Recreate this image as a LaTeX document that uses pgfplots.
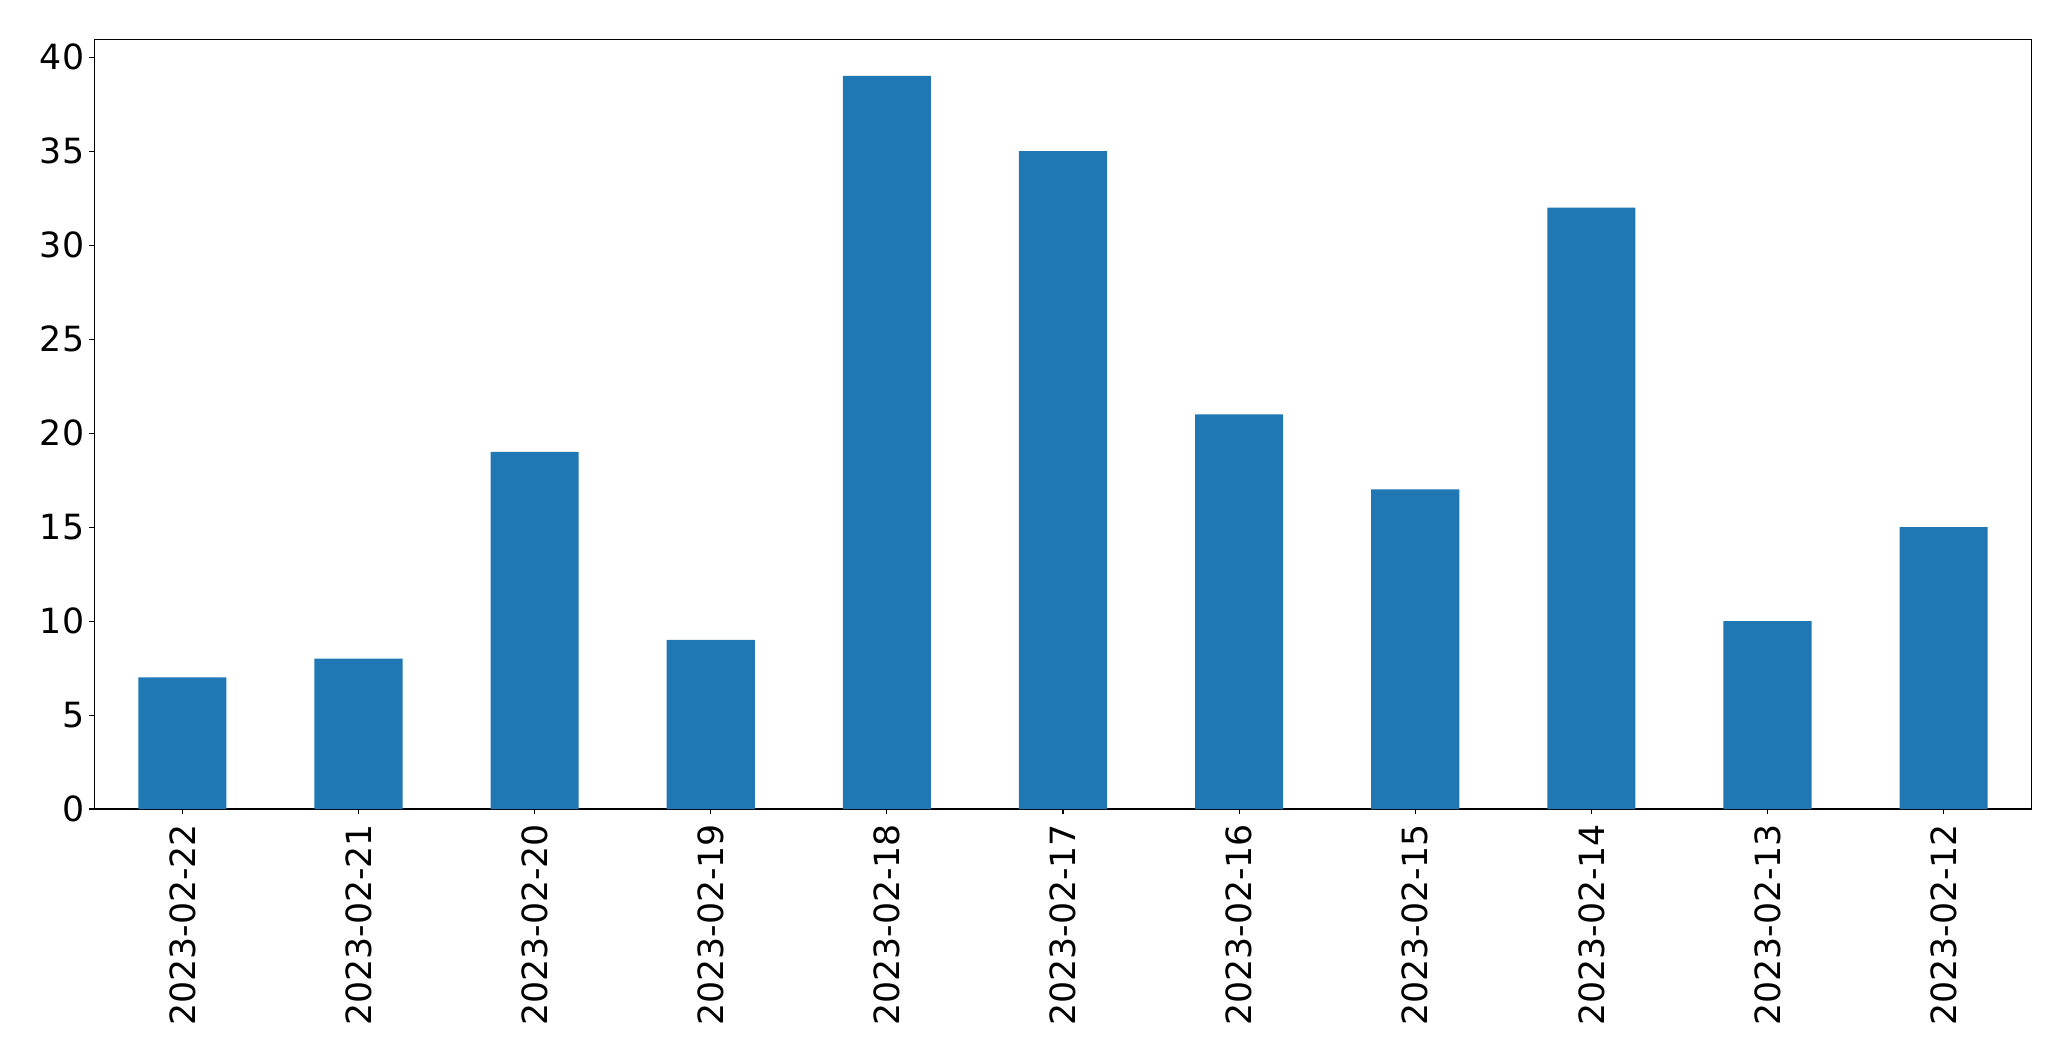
\documentclass[border=0pt]{standalone}
\usepackage{pgfplots}
\pgfplotsset{compat=1.18}
\usepackage{fontspec}
\setmainfont{DejaVu Sans}
\definecolor{mplblue}{HTML}{1F77B4}
\begin{document}
\begin{tikzpicture}
\useasboundingbox (-67.9pt,-181.4pt) rectangle (1423.2pt,582.5pt);
\begin{axis}[
  at={(0,0)}, anchor=south west,
  scale only axis,
  width=1394.9pt, height=554.2pt,
  xmin=-0.5, xmax=10.5, ymin=0, ymax=40.95,
  axis line style={line width=0.8pt},
  every tick/.style={black, line width=0.8pt},
  tick align=outside, major tick length=3.5pt,
  xtick pos=bottom, ytick pos=left,
  xtick={0,1,2,3,4,5,6,7,8,9,10},
  xticklabels={2023-02-22,2023-02-21,2023-02-20,2023-02-19,2023-02-18,2023-02-17,2023-02-16,2023-02-15,2023-02-14,2023-02-13,2023-02-12},
  ytick={0,5,10,15,20,25,30,35,40},
  /pgf/number format/assume math mode=true,
  tick label style={font=\fontsize{25pt}{30pt}\selectfont},
  xticklabel style={rotate=90, anchor=east, inner sep=0pt, xshift=-7pt},
  yticklabel style={inner sep=0pt, xshift=-3.6pt},
  enlargelimits=false,
]
\addplot[ybar, bar width=0.5, fill=mplblue, draw=none, bar shift=0pt] coordinates {
(0,7) (1,8) (2,19) (3,9) (4,39) (5,35) (6,21) (7,17) (8,32) (9,10) (10,15)
};
\end{axis}
\end{tikzpicture}
\end{document}
